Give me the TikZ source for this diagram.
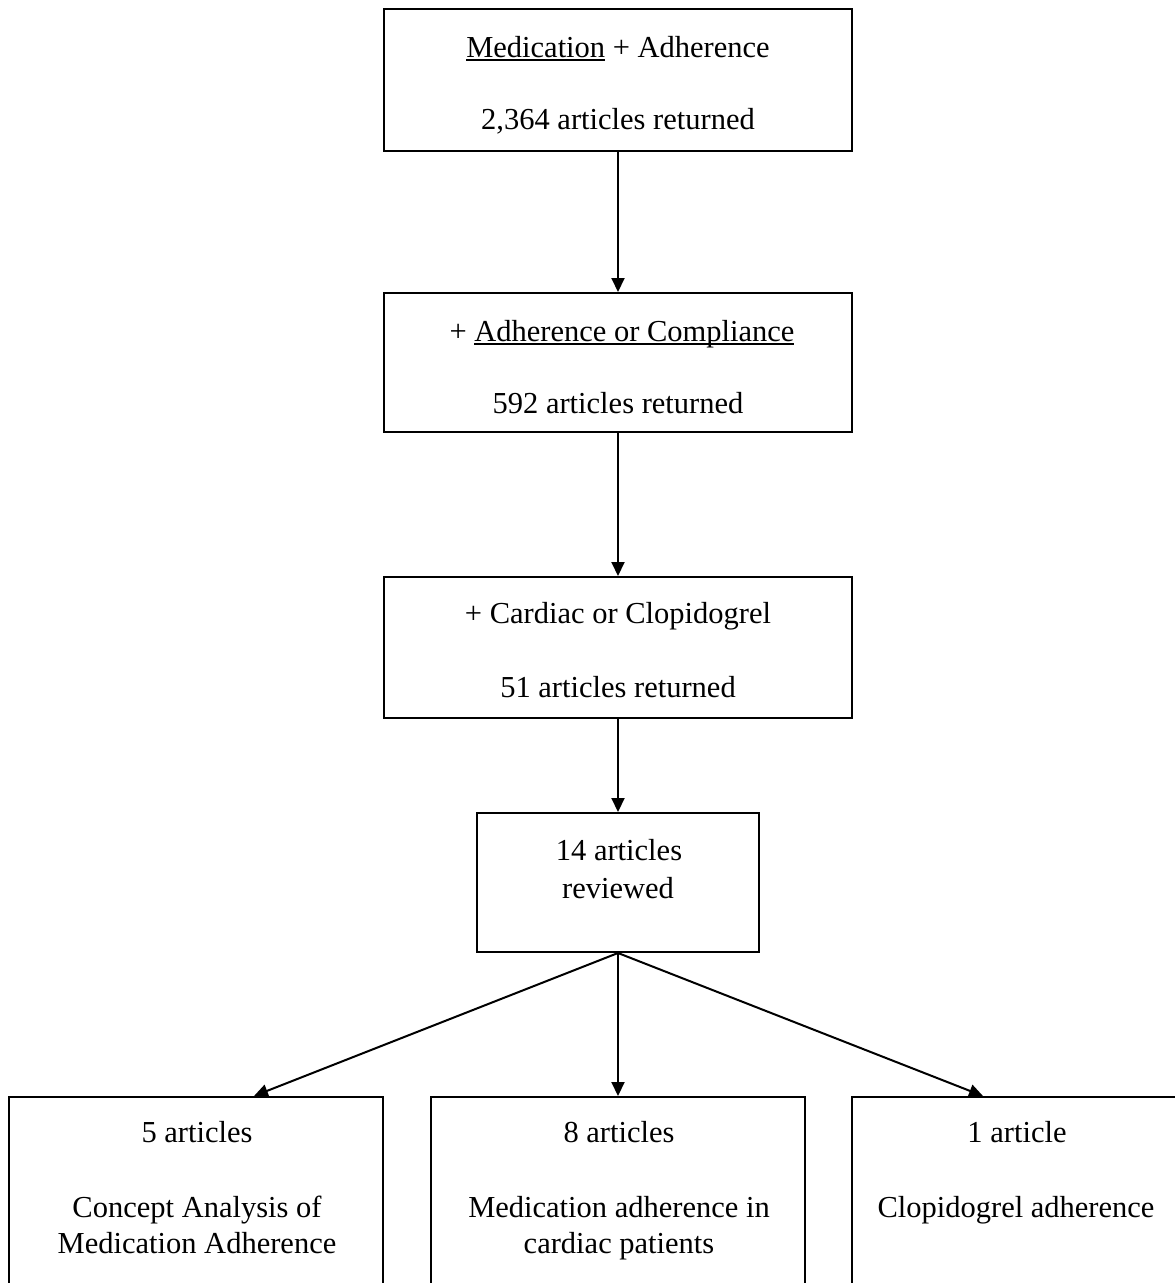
\documentclass[tikz,border=0pt]{standalone}
\usepackage{fontspec}
\setmainfont{Liberation Serif}
\usetikzlibrary{arrows.meta,fit}
\newcommand\myul[1]{\setbox0\hbox{#1}\rlap{\rule[-3.5pt]{\wd0}{1.6pt}}\box0\relax}
\begin{document}
\begin{tikzpicture}[x=1pt,y=-1pt,
  box/.style={draw, line width=2pt, inner sep=0pt},
  txt/.style={font=\fontsize{30.5}{37}\selectfont, anchor=base, inner sep=0pt},
  arr/.style={line width=2pt, -{Triangle[length=14pt,width=13pt]}}]
\useasboundingbox (0,0) rectangle (1175,1283);
\clip (0,0) rectangle (1175,1283);
% boxes
\node[box, fit={(384,9)(852,151)}] (b1) {};
\node[box, fit={(384,293)(852,432)}] (b2) {};
\node[box, fit={(384,577)(852,718)}] (b3) {};
\node[box, fit={(477,813)(759,952)}] (b4) {};
\node[box, fit={(9,1097)(383,1320)}] (b5) {};
\node[box, fit={(431,1097)(805,1320)}] (b6) {};
\node[box, fit={(852,1097)(1182,1320)}] (b7) {};
% texts
\node[txt] (t1a) at (618,57) {\myul{Medication} + Adherence};
\node[txt] (t1b) at (618,129) {2,364 articles returned};
\node[txt] (t2a) at (622,341) {+ \myul{Adherence or Compliance}};
\node[txt] (t2b) at (618,413) {592 articles returned};
\node[txt] (t3a) at (618,623) {+ Cardiac or Clopidogrel};
\node[txt] (t3b) at (618,697) {51 articles returned};
\node[txt] (t4a) at (619,860) {14 articles};
\node[txt] (t4b) at (618,898) {reviewed};
\node[txt] (t5a) at (197,1142) {5 articles};
\node[txt] (t5b) at (197,1217) {Concept Analysis of};
\node[txt] (t5c) at (197,1253) {Medication Adherence};
\node[txt] (t6a) at (619,1142) {8 articles};
\node[txt] (t6b) at (619,1217) {Medication adherence in};
\node[txt] (t6c) at (619,1253) {cardiac patients};
\node[txt] (t7a) at (1017,1142) {1 article};
\node[txt] (t7b) at (1016,1217) {Clopidogrel adherence};
% connectors
\draw[arr] (b1.south) -- (b2.north);
\draw[arr] (b2.south) -- (b3.north);
\draw[arr] (b3.south) -- (b4.north -| b3.south);
\draw[arr] (b4.south) -- ([xshift=246pt]b5.north west);
\draw[arr] (b4.south) -- (b6.north);
\draw[arr] (b4.south) -- ([xshift=132pt]b7.north west);
\end{tikzpicture}
\end{document}
